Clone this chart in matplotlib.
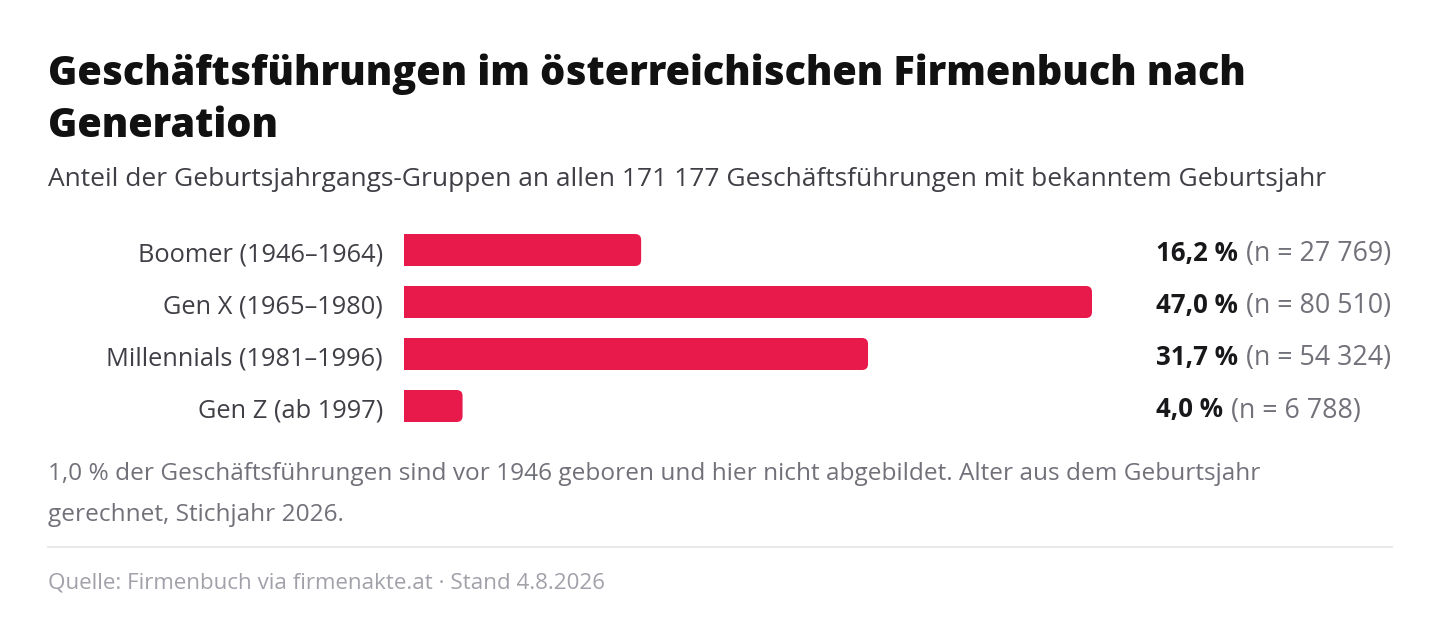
import matplotlib
matplotlib.use("Agg")
import matplotlib.pyplot as plt
from matplotlib.patches import FancyBboxPatch, Rectangle
from matplotlib import transforms

generations = ["Boomer (1946–1964)", "Gen X (1965–1980)",
               "Millennials (1981–1996)", "Gen Z (ab 1997)"]
shares = [16.2, 47.0, 31.7, 4.0]
share_labels = ["16,2 %", "47,0 %", "31,7 %", "4,0 %"]
n_labels = ["(n = 27 769)", "(n = 80 510)", "(n = 54 324)", "(n = 6 788)"]

title1 = "Geschäftsführungen im österreichischen Firmenbuch nach"
title2 = "Generation"
subtitle = "Anteil der Geburtsjahrgangs-Gruppen an allen 171 177 Geschäftsführungen mit bekanntem Geburtsjahr"
note1 = "1,0 % der Geschäftsführungen sind vor 1946 geboren und hier nicht abgebildet. Alter aus dem Geburtsjahr"
note2 = "gerechnet, Stichjahr 2026."
source = "Quelle: Firmenbuch via firmenakte.at · Stand 4.8.2026"

W, H = 1440, 628
BAR = "#e8194b"
plt.rcParams["font.family"] = ["Open Sans", "DejaVu Sans"]

fig = plt.figure(figsize=(W / 100, H / 100), dpi=100)
fig.patch.set_facecolor("white")


def px(x, y):
    # pixel position (from top-left) to figure fraction
    return x / W, 1 - y / H


# bar area: 0 % at x=404, 47 % at x=1092, rows 52 px apart starting at y=250
ax = fig.add_axes([404 / W, 1 - 432 / H, 688 / W, 208 / H])
ax.set_xlim(0, 47.0)
ax.set_ylim(len(shares) - 0.5, -0.5)
ax.axis("off")

bar_h = 32 / 52
x_per_px = 47.0 / 688
y_per_px = 1 / 52
radius = 6 * x_per_px
for i, v in enumerate(shares):
    box = FancyBboxPatch((0, i - bar_h / 2), v, bar_h,
                         boxstyle=f"round,pad=0,rounding_size={radius}",
                         mutation_aspect=y_per_px / x_per_px,
                         fc=BAR, ec="none")
    ax.add_patch(box)
    # square off left corners
    ax.add_patch(Rectangle((0, i - bar_h / 2), min(v, 1.0), bar_h, fc=BAR, ec="none"))

lab_tr = transforms.offset_copy(
    transforms.blended_transform_factory(fig.transFigure, ax.transData),
    fig=fig, x=0, y=-11.5, units="dots")
for i, g in enumerate(generations):
    fig.text(383 / W, i, g, transform=lab_tr, ha="right", va="baseline",
             fontsize=18.3, color="#3f3f46")

fig.canvas.draw()
renderer = fig.canvas.get_renderer()
for i in range(len(shares)):
    t = fig.text(1156 / W, i, share_labels[i], transform=lab_tr, ha="left",
                 va="baseline", fontsize=18.6, fontweight="bold", color="#18181b")
    bb = t.get_window_extent(renderer)
    x2 = (bb.x1 + 8) / W
    fig.text(x2, i, n_labels[i], transform=lab_tr, ha="left", va="baseline",
             fontsize=19.3, color="#71717a")

fig.text(*px(48, 85), title1, fontsize=28.5, fontweight=900, color="#111111", va="baseline")
fig.text(*px(48, 137), title2, fontsize=28.5, fontweight=900, color="#111111", va="baseline")
fig.text(*px(48, 186), subtitle, fontsize=19, color="#3f3f46", va="baseline")

fig.text(*px(48, 480), note1, fontsize=17.6, color="#71717a", va="baseline")
fig.text(*px(48, 521), note2, fontsize=17.6, color="#71717a", va="baseline")
fig.add_artist(plt.Line2D([48 / W, 1392 / W], [1 - 547 / H] * 2, color="#e4e4e7", lw=1.2))
fig.text(*px(48, 589), source, fontsize=16.1, color="#a1a1aa", va="baseline")

fig.savefig("out.png", dpi=100, facecolor="white")
